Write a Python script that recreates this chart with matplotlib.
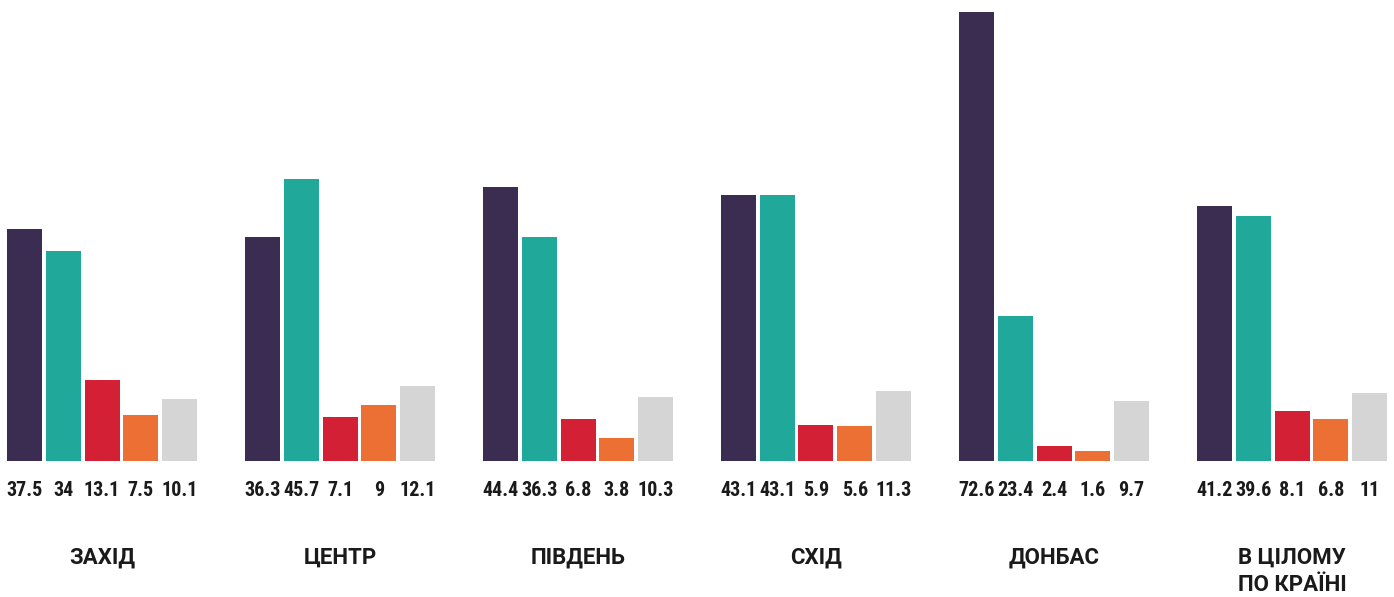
import matplotlib
matplotlib.use("Agg")
import matplotlib.pyplot as plt
import numpy as np

# Data
regions = ["ЗАХІД", "ЦЕНТР", "ПІВДЕНЬ", "СХІД", "ДОНБАС", "В ЦІЛОМУ\nПО КРАЇНІ"]
s1 = [37.5, 36.3, 44.4, 43.1, 72.6, 41.2]
s2 = [34, 45.7, 36.3, 43.1, 23.4, 39.6]
s3 = [13.1, 7.1, 6.8, 5.9, 2.4, 8.1]
s4 = [7.5, 9, 3.8, 5.6, 1.6, 6.8]
s5 = [10.1, 12.1, 10.3, 11.3, 9.7, 11]

series = [s1, s2, s3, s4, s5]
colors = ["#3b2d52", "#20a89a", "#d32035", "#ec7034", "#d4d5d4"]

fig = plt.figure(figsize=(13.94, 5.97), dpi=100)
ax = fig.add_axes([0, 0, 1, 1])

x = np.arange(len(regions))
step = 38.75 / 238
width = 35 / 238

num_font = dict(family=["Roboto Condensed", "Open Sans Condensed", "DejaVu Sans"],
                fontweight="bold", fontstretch="condensed",
                fontsize=14.5, color="#1a1a1a")

for i, (vals, c) in enumerate(zip(series, colors)):
    pos = x + (i - 2) * step
    ax.bar(pos, vals, width=width, color=c, linewidth=0)
    for p, v in zip(pos, vals):
        ax.text(p, -4.8, f"{v:g}", ha="center", va="center", **num_font)

for xi, name in zip(x, regions):
    ax.text(xi, -15.6 if "\n" not in name else -17.8, name, ha="center", va="center",
            family=["Roboto", "DejaVu Sans"], fontweight="bold", fontsize=16,
            color="#1a1a1a", linespacing=1.3)

ax.set_xlim(-102 / 238, (1394 - 102) / 238)
ax.set_ylim(-136 / 6.18, (597 - 136) / 6.18)
ax.axis("off")

fig.savefig("out.png", dpi=100, facecolor="white")
